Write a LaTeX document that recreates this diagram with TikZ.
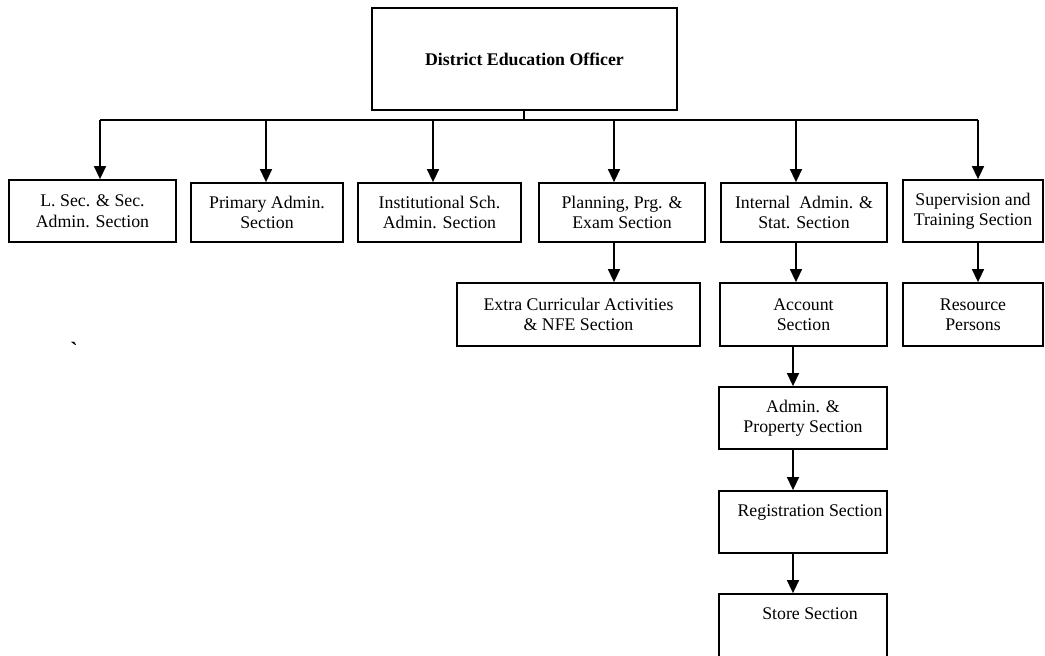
\documentclass[tikz,border=0pt]{standalone}
\usepackage{fontspec}
\setmainfont{Liberation Serif}
\usetikzlibrary{arrows.meta}
\tikzset{
  orgbox/.style={draw, line width=0.9pt, align=center, inner sep=0pt,
    font=\fontsize{8.9}{10.2}\selectfont},
  conn/.style={line width=0.75pt},
  arr/.style={line width=0.75pt, -{Triangle[length=6.5pt,width=6pt]}}
}
\begin{document}
\begin{tikzpicture}[x=0.5pt,y=-0.5pt]
\useasboundingbox (0,0) rectangle (1045,655);
% top
\node[orgbox, minimum width=152.5pt, minimum height=51pt, font=\fontsize{8.9}{10.2}\selectfont\bfseries] (deo) at (524.5,59) {District Education Officer};
% first row
\node[orgbox, minimum width=83.5pt, minimum height=31pt] (b1) at (92.5,211) {L. Sec. \& Sec.\\Admin. Section};
\node[orgbox, minimum width=76pt, minimum height=29.5pt] (b2) at (267,212.5) {Primary Admin.\\Section};
\node[orgbox, minimum width=81.5pt, minimum height=29.5pt] (b3) at (439.5,212.5) {Institutional Sch.\\Admin. Section};
\node[orgbox, minimum width=83pt, minimum height=29.5pt] (b4) at (622,212.5) {Planning, Prg. \&\\Exam Section};
\node[orgbox, minimum width=83pt, minimum height=29.5pt] (b5) at (804,212.5) {Internal\ \ Admin. \&\\Stat. Section};
\node[orgbox, minimum width=70pt, minimum height=31pt] (b6) at (973,211) {Supervision and\\Training Section};
% second row
\node[orgbox, minimum width=121.5pt, minimum height=31.5pt] (ec) at (578.5,314.5) {Extra Curricular Activities\\\& NFE Section};
\node[orgbox, minimum width=83.5pt, minimum height=31.5pt] (acc) at (803.5,314.5) {Account\\Section};
\node[orgbox, minimum width=70pt, minimum height=31.5pt] (res) at (973,314.5) {Resource\\Persons};
% chain
\node[orgbox, minimum width=84pt, minimum height=31pt] (adm) at (803,418) {Admin. \&\\Property Section};
\node[orgbox, minimum width=84pt, minimum height=31pt] (reg) at (803,522) {\hspace*{7pt}Registration Section\\[1pt]\mbox{}};
\node[orgbox, minimum width=84pt, minimum height=34pt] (sto) at (803,628) {\hspace*{7pt}Store Section\\[4pt]\mbox{}};
% stray mark
\node[font=\fontsize{11}{12}\selectfont\bfseries, inner sep=0pt] (mark) at (74,350) {\textasciigrave};
% bus
\coordinate (top) at (524,120);
\coordinate (c1) at (100,120);
\coordinate (c2) at (266,120);
\coordinate (c3) at (433,120);
\coordinate (c4) at (614,120);
\coordinate (c5) at (796,120);
\coordinate (c6) at (978,120);
\draw[conn] (deo.south -| top) -- (top);
\draw[conn] (c1) -- (c6);
\draw[arr] (c1) -- (c1 |- b1.north);
\draw[arr] (c2) -- (c2 |- b2.north);
\draw[arr] (c3) -- (c3 |- b3.north);
\draw[arr] (c4) -- (c4 |- b4.north);
\draw[arr] (c5) -- (c5 |- b5.north);
\draw[arr] (c6) -- (c6 |- b6.north);
\draw[arr] (b4.south -| c4) -- (ec.north -| c4);
\draw[arr] (b5.south -| c5) -- (acc.north -| c5);
\draw[arr] (b6.south -| c6) -- (res.north -| c6);
\coordinate (d) at (793,0);
\draw[arr] (acc.south -| d) -- (adm.north -| d);
\draw[arr] (adm.south -| d) -- (reg.north -| d);
\draw[arr] (reg.south -| d) -- (sto.north -| d);
\end{tikzpicture}
\end{document}
